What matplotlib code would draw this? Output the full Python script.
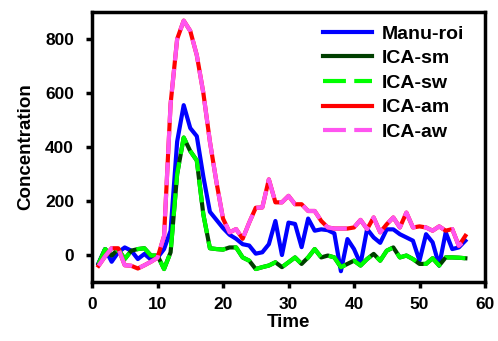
import matplotlib
matplotlib.use('Agg')
import matplotlib.pyplot as plt

# Время (отсчёты)
time = list(range(1, 58))

manu_roi = [-30, 22, -25, 10, 28, 16, -15, 4, -17, -10, 22, 90, 420, 555, 470, 440, 290,
            160, 130, 100, 75, 60, 40, 35, 5, 10, 40, 126, 0, 120, 115, 29, 135, 90, 95,
            92, 80, -60, 59, 22, -33, 96, 65, 45, 95, 95, 77, 65, 53, -21, 77, 47, -39,
            84, 22, 28, 53]

ica_sm = [-33, 22, -2, 22, -15, 16, 22, 25, -2, -2, -52, 10, 300, 435, 385, 350, 150,
          25, 22, 20, 28, 28, -9, -21, -52, -45, -39, -27, -45, -27, -9, -33, -9, 22, -9,
          -2, -9, -45, -33, -21, -39, -15, 4, -21, 16, 28, -9, -2, -15, -33, -33, -12,
          -39, -9, -9, -10, -12]

ica_sw = list(ica_sm)

ica_am = [-40, -5, 25, 25, -38, -40, -50, -38, -25, -10, 70, 560, 800, 868, 830, 740,
          600, 420, 270, 135, 84, 96, 60, 120, 175, 176, 280, 195, 195, 219, 188, 188,
          163, 163, 126, 102, 98, 98, 98, 102, 130, 96, 139, 84, 114, 139, 102, 157,
          102, 106, 102, 90, 106, 90, 96, 34, 71]

ica_aw = list(ica_am)
ica_aw[-1] = 55

fnt = 'Liberation Sans'

fig = plt.figure(figsize=(4.98, 3.41), dpi=100)
ax = fig.add_axes([92 / 498, 59 / 341, (485 - 92) / 498, (282 - 12) / 341])

lw = 3
dash = (0, (5.5, 2))
ax.plot(time, manu_roi, color='#0000FF', lw=lw, label='Manu-roi')
ax.plot(time, ica_sm, color='#003F00', lw=lw, label='ICA-sm')
ax.plot(time, ica_sw, color='#00FF00', lw=lw, ls=dash, label='ICA-sw')
ax.plot(time, ica_am, color='#FF0000', lw=lw, label='ICA-am')
ax.plot(time, ica_aw, color='#FF55F0', lw=lw, ls=dash, label='ICA-aw')

ax.set_xlim(0, 60)
ax.set_ylim(-100, 900)
ax.set_xticks(range(0, 61, 10))
ax.set_yticks(range(0, 801, 200))

for s in ax.spines.values():
    s.set_linewidth(2.5)
ax.tick_params(direction='out', length=4.5, width=2.5, labelsize=12.5)
ax.tick_params(axis='x', pad=6.5)
ax.tick_params(axis='y', pad=8.5)
for lab in ax.get_xticklabels() + ax.get_yticklabels():
    lab.set_fontweight('bold')
    lab.set_family(fnt)

ax.set_xlabel('Time', fontsize=13.5, fontweight='bold', family=fnt, labelpad=1)
ax.set_ylabel('Concentration', fontsize=13.5, fontweight='bold', family=fnt, labelpad=8)

leg = ax.legend(frameon=False, loc='upper left', bbox_to_anchor=(323 / 498, 1 - 25 / 341),
                bbox_transform=fig.transFigure, borderpad=0, borderaxespad=0,
                handlelength=2.5, handletextpad=0.5, labelspacing=0.36,
                prop={'family': fnt, 'weight': 'bold', 'size': 14})

fig.savefig('out.png', dpi=100)
